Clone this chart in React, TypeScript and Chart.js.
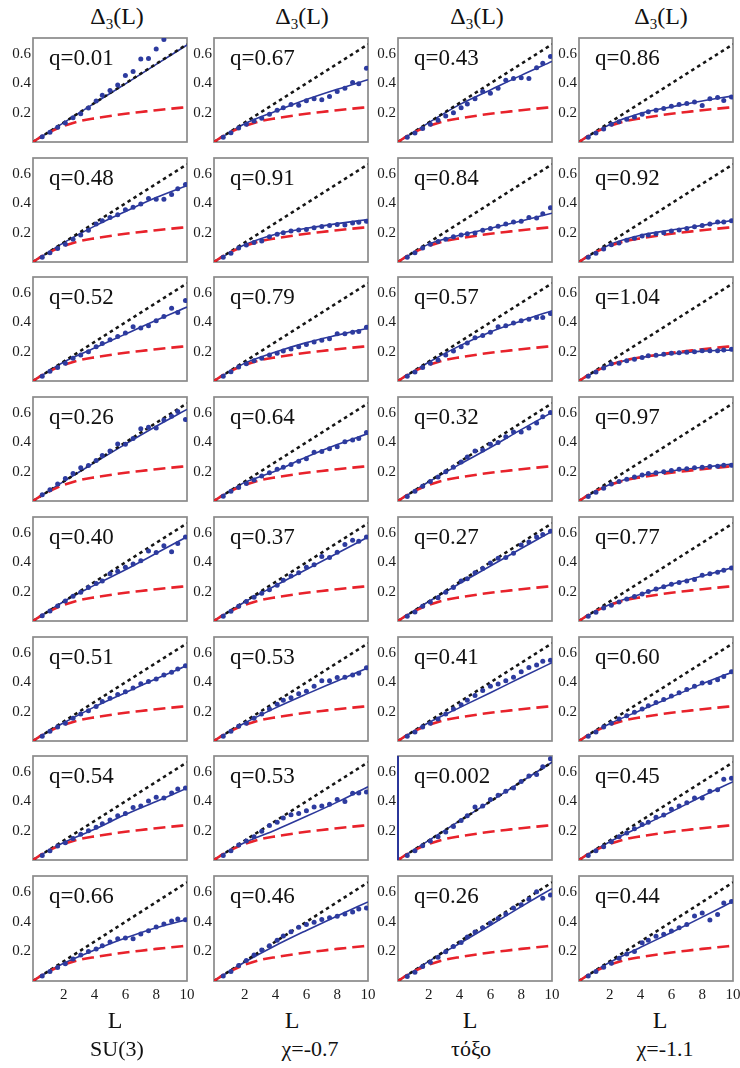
import React, { useEffect, useRef } from "react";
import { Chart, registerables } from "chart.js";
Chart.register(...registerables);

const FONT = '"Liberation Serif", "Times New Roman", Times, serif';

// ---- shared data ----
const dotL = [0.6, 1.1, 1.6, 2.1, 2.6, 3.1, 3.6, 4.1, 4.5, 5.0, 5.5, 6.0, 6.5, 7.0, 7.5, 8.0, 8.5, 9.0, 9.4, 9.9];
const fitL = [0, 1, 2, 4, 6, 8, 10];
const goeL = [0, 0.5, 1, 1.5, 2, 3, 4, 5, 6, 7, 8, 9, 10];
const goeV = [0, 0.035, 0.063, 0.088, 0.11, 0.142, 0.162, 0.178, 0.193, 0.205, 0.217, 0.228, 0.238];
const poissonL = [0, 10];
const poissonV = [0, 0.667];
const xTickValues = [2, 4, 6, 8, 10];
const xTickLabels = ["2", "4", "6", "8", "10"];
const yTickValues = [0.2, 0.4, 0.6];
const yTickLabels = ["0.2", "0.4", "0.6"];
const colTitles = ["Δ3(L)", "Δ3(L)", "Δ3(L)", "Δ3(L)"];
const colNames = ["SU(3)", "χ=-0.7", "τόξο", "χ=-1.1"];
const xAxisTitle = "L";
const qLabels = [
  "q=0.01", "q=0.67", "q=0.43", "q=0.86",
  "q=0.48", "q=0.91", "q=0.84", "q=0.92",
  "q=0.52", "q=0.79", "q=0.57", "q=1.04",
  "q=0.26", "q=0.64", "q=0.32", "q=0.97",
  "q=0.40", "q=0.37", "q=0.27", "q=0.77",
  "q=0.51", "q=0.53", "q=0.41", "q=0.60",
  "q=0.54", "q=0.53", "q=0.002", "q=0.45",
  "q=0.66", "q=0.46", "q=0.26", "q=0.44",
];
// vertical blue edge seen in the q=0.002 panel
const edgeL = [0, 0];
const edgeV = [0, 0.71];

// ---- per-panel data (dots, fitted curve) ----
const d11 = [0.035, 0.067, 0.1, 0.13, 0.165, 0.193, 0.232, 0.28, 0.32, 0.352, 0.389, 0.454, 0.481, 0.566, 0.57, 0.635, 0.7];
const f11 = [0, 0.066, 0.132, 0.265, 0.397, 0.53, 0.662];
const d12 = [0.033, 0.064, 0.096, 0.122, 0.144, 0.162, 0.189, 0.216, 0.233, 0.256, 0.251, 0.282, 0.296, 0.289, 0.311, 0.344, 0.367, 0.407, 0.398, 0.504];
const f12 = [0, 0.064, 0.125, 0.21, 0.29, 0.36, 0.425];
const d13 = [0.033, 0.062, 0.093, 0.122, 0.149, 0.178, 0.2, 0.233, 0.26, 0.296, 0.344, 0.333, 0.367, 0.422, 0.433, 0.438, 0.433, 0.507, 0.538, 0.584];
const f13 = [0, 0.066, 0.132, 0.255, 0.355, 0.455, 0.55];
const d14 = [0.033, 0.062, 0.089, 0.122, 0.138, 0.156, 0.171, 0.189, 0.207, 0.216, 0.229, 0.244, 0.256, 0.262, 0.273, 0.249, 0.296, 0.304, 0.284, 0.307];
const f14 = [0, 0.063, 0.12, 0.196, 0.24, 0.28, 0.315];

const d21 = [0.033, 0.064, 0.093, 0.122, 0.156, 0.184, 0.216, 0.26, 0.282, 0.304, 0.322, 0.356, 0.373, 0.396, 0.433, 0.429, 0.429, 0.46, 0.5, 0.529];
const f21 = [0, 0.066, 0.132, 0.245, 0.345, 0.44, 0.522];
const d22 = [0.033, 0.06, 0.096, 0.116, 0.133, 0.144, 0.173, 0.189, 0.2, 0.211, 0.218, 0.222, 0.233, 0.242, 0.249, 0.256, 0.253, 0.267, 0.271, 0.278];
const f22 = [0, 0.062, 0.118, 0.19, 0.23, 0.262, 0.29];
const d23 = [0.033, 0.064, 0.096, 0.122, 0.14, 0.156, 0.173, 0.184, 0.193, 0.198, 0.216, 0.229, 0.244, 0.26, 0.273, 0.278, 0.304, 0.3, 0.329, 0.371];
const f23 = [0, 0.064, 0.122, 0.182, 0.23, 0.28, 0.333];
const d24 = [0.033, 0.06, 0.089, 0.118, 0.129, 0.149, 0.162, 0.178, 0.184, 0.193, 0.2, 0.211, 0.218, 0.229, 0.24, 0.249, 0.26, 0.273, 0.273, 0.282];
const f24 = [0, 0.062, 0.118, 0.182, 0.218, 0.25, 0.284];

const d31 = [0.033, 0.067, 0.093, 0.122, 0.156, 0.178, 0.2, 0.233, 0.256, 0.282, 0.304, 0.327, 0.371, 0.362, 0.378, 0.411, 0.44, 0.496, 0.467, 0.549];
const f31 = [0, 0.066, 0.13, 0.225, 0.32, 0.415, 0.505];
const d32 = [0.033, 0.064, 0.096, 0.118, 0.138, 0.156, 0.178, 0.189, 0.204, 0.218, 0.233, 0.249, 0.267, 0.278, 0.289, 0.322, 0.322, 0.333, 0.338, 0.367];
const f32 = [0, 0.064, 0.122, 0.198, 0.262, 0.313, 0.36];
const d33 = [0.033, 0.062, 0.093, 0.122, 0.144, 0.178, 0.204, 0.233, 0.26, 0.296, 0.311, 0.333, 0.371, 0.378, 0.396, 0.411, 0.422, 0.433, 0.433, 0.46];
const f33 = [0, 0.065, 0.128, 0.24, 0.335, 0.41, 0.48];
const d34 = [0.033, 0.062, 0.089, 0.118, 0.122, 0.138, 0.149, 0.16, 0.173, 0.176, 0.182, 0.189, 0.193, 0.196, 0.2, 0.207, 0.207, 0.207, 0.211, 0.216];
const f34 = [0, 0.06, 0.111, 0.16, 0.185, 0.204, 0.212];

const d41 = [0.042, 0.076, 0.116, 0.153, 0.187, 0.227, 0.242, 0.276, 0.311, 0.342, 0.389, 0.387, 0.427, 0.493, 0.504, 0.498, 0.553, 0.578, 0.611, 0.556];
const f41 = [0, 0.067, 0.134, 0.262, 0.388, 0.51, 0.625];
const d42 = [0.033, 0.067, 0.093, 0.12, 0.144, 0.171, 0.193, 0.216, 0.231, 0.249, 0.271, 0.289, 0.333, 0.338, 0.356, 0.371, 0.404, 0.416, 0.427, 0.467];
const f42 = [0, 0.065, 0.127, 0.205, 0.3, 0.385, 0.46];
const d43 = [0.031, 0.067, 0.1, 0.133, 0.164, 0.2, 0.231, 0.267, 0.3, 0.342, 0.349, 0.387, 0.4, 0.438, 0.471, 0.471, 0.498, 0.533, 0.576, 0.604];
const f43 = [0, 0.066, 0.131, 0.25, 0.365, 0.487, 0.605];
const d44 = [0.031, 0.06, 0.087, 0.116, 0.133, 0.149, 0.164, 0.178, 0.187, 0.193, 0.2, 0.209, 0.216, 0.22, 0.227, 0.231, 0.236, 0.238, 0.244, 0.244];
const f44 = [0, 0.06, 0.112, 0.172, 0.205, 0.23, 0.252];

const d51 = [0.036, 0.069, 0.102, 0.136, 0.169, 0.196, 0.229, 0.256, 0.273, 0.322, 0.34, 0.367, 0.389, 0.411, 0.478, 0.467, 0.513, 0.473, 0.529, 0.573];
const f51 = [0, 0.067, 0.133, 0.245, 0.35, 0.462, 0.575];
const d52 = [0.033, 0.067, 0.1, 0.133, 0.162, 0.189, 0.213, 0.244, 0.278, 0.307, 0.329, 0.367, 0.384, 0.44, 0.433, 0.469, 0.522, 0.551, 0.544, 0.573];
const f52 = [0, 0.066, 0.13, 0.242, 0.352, 0.462, 0.573];
const d53 = [0.033, 0.062, 0.1, 0.129, 0.158, 0.196, 0.229, 0.273, 0.289, 0.329, 0.358, 0.396, 0.429, 0.433, 0.462, 0.518, 0.54, 0.573, 0.591, 0.613];
const f53 = [0, 0.067, 0.133, 0.256, 0.375, 0.495, 0.612];
const d54 = [0.033, 0.06, 0.089, 0.107, 0.129, 0.151, 0.167, 0.184, 0.202, 0.218, 0.233, 0.251, 0.262, 0.273, 0.284, 0.313, 0.322, 0.333, 0.347, 0.362];
const f54 = [0, 0.062, 0.112, 0.182, 0.25, 0.307, 0.365];

const d61 = [0.033, 0.067, 0.096, 0.122, 0.156, 0.184, 0.207, 0.236, 0.269, 0.291, 0.318, 0.336, 0.362, 0.391, 0.407, 0.424, 0.451, 0.469, 0.491, 0.513];
const f61 = [0, 0.065, 0.125, 0.233, 0.33, 0.425, 0.515];
const d62 = [0.033, 0.067, 0.1, 0.122, 0.156, 0.184, 0.218, 0.251, 0.278, 0.296, 0.322, 0.34, 0.373, 0.411, 0.411, 0.433, 0.436, 0.451, 0.462, 0.5];
const f62 = [0, 0.064, 0.123, 0.226, 0.32, 0.41, 0.5];
const d63 = [0.033, 0.062, 0.096, 0.122, 0.151, 0.184, 0.218, 0.247, 0.278, 0.311, 0.344, 0.373, 0.389, 0.411, 0.436, 0.473, 0.502, 0.518, 0.544, 0.551];
const f63 = [0, 0.065, 0.126, 0.228, 0.33, 0.433, 0.535];
const d64 = [0.033, 0.062, 0.096, 0.122, 0.151, 0.173, 0.196, 0.218, 0.24, 0.262, 0.284, 0.307, 0.329, 0.351, 0.373, 0.396, 0.4, 0.418, 0.44, 0.473];
const f64 = [0, 0.062, 0.118, 0.21, 0.3, 0.39, 0.472];

const d71 = [0.031, 0.064, 0.096, 0.118, 0.147, 0.176, 0.2, 0.224, 0.247, 0.273, 0.302, 0.318, 0.358, 0.369, 0.402, 0.429, 0.424, 0.458, 0.484, 0.491];
const f71 = [0, 0.064, 0.12, 0.21, 0.31, 0.4, 0.49];
const d72 = [0.031, 0.064, 0.102, 0.129, 0.158, 0.196, 0.236, 0.258, 0.287, 0.309, 0.318, 0.336, 0.362, 0.369, 0.38, 0.413, 0.4, 0.455, 0.458, 0.465];
const f72 = [0, 0.064, 0.12, 0.205, 0.298, 0.395, 0.5];
const d73 = [0.031, 0.064, 0.098, 0.129, 0.158, 0.191, 0.229, 0.269, 0.302, 0.362, 0.369, 0.413, 0.442, 0.469, 0.491, 0.536, 0.573, 0.584, 0.636, 0.691];
const f73 = [0, 0.067, 0.134, 0.267, 0.4, 0.534, 0.667];
const d74 = [0.031, 0.064, 0.091, 0.124, 0.158, 0.184, 0.213, 0.242, 0.258, 0.291, 0.307, 0.347, 0.369, 0.391, 0.424, 0.424, 0.469, 0.48, 0.551, 0.558];
const f74 = [0, 0.065, 0.125, 0.228, 0.33, 0.435, 0.535];

const d81 = [0.033, 0.064, 0.092, 0.117, 0.149, 0.175, 0.2, 0.217, 0.239, 0.263, 0.285, 0.29, 0.285, 0.317, 0.34, 0.365, 0.385, 0.405, 0.42, 0.415];
const f81 = [0, 0.064, 0.12, 0.21, 0.29, 0.36, 0.415];
const d82 = [0.033, 0.064, 0.104, 0.138, 0.176, 0.209, 0.238, 0.276, 0.304, 0.333, 0.364, 0.382, 0.398, 0.416, 0.427, 0.438, 0.453, 0.467, 0.487, 0.493];
const f82 = [0, 0.066, 0.128, 0.24, 0.342, 0.44, 0.535];
const d83 = [0.031, 0.06, 0.098, 0.127, 0.16, 0.198, 0.233, 0.26, 0.298, 0.331, 0.36, 0.393, 0.422, 0.453, 0.493, 0.516, 0.553, 0.604, 0.56, 0.582];
const f83 = [0, 0.066, 0.133, 0.254, 0.377, 0.503, 0.625];
const d84 = [0.033, 0.064, 0.093, 0.12, 0.153, 0.182, 0.2, 0.258, 0.276, 0.302, 0.316, 0.338, 0.36, 0.382, 0.44, 0.46, 0.413, 0.45, 0.527, 0.538];
const f84 = [0, 0.065, 0.127, 0.228, 0.328, 0.432, 0.538];

const dotSeries = [
  d11, d12, d13, d14, d21, d22, d23, d24, d31, d32, d33, d34, d41, d42, d43, d44,
  d51, d52, d53, d54, d61, d62, d63, d64, d71, d72, d73, d74, d81, d82, d83, d84,
];
const fitSeries = [
  f11, f12, f13, f14, f21, f22, f23, f24, f31, f32, f33, f34, f41, f42, f43, f44,
  f51, f52, f53, f54, f61, f62, f63, f64, f71, f72, f73, f74, f81, f82, f83, f84,
];
const edgePanel = 26;

// ---- layout ----
const COL_LEFT = [33, 214, 398, 579];
const ROW_TOP0 = 37;
const ROW_PITCH = 119.7;
const PLOT_W = 154;
const PLOT_H = 106;
const Y_AXIS_W = 32;
const PAD_TOP = 10;
const PAD_RIGHT = 14;
const X_AXIS_H = 22;

const BLUE = "#2b379a";
const DOT = "#2d3b9f";
const RED = "#e8222b";
const BLACK = "#151515";
const FRAME = "#8a8a8a";

const pts = (xs: number[], ys: number[]) => ys.map((y, i) => ({ x: xs[i], y }));

const framePlugin = {
  id: "frame",
  beforeDatasetsDraw(chart: any) {
    const { ctx, chartArea: a } = chart;
    ctx.save();
    ctx.strokeStyle = FRAME;
    ctx.lineWidth = 1.7;
    ctx.strokeRect(a.left, a.top, a.right - a.left, a.bottom - a.top);
    ctx.restore();
  },
};

function Panel({ idx }: { idx: number }) {
  const ref = useRef<HTMLCanvasElement | null>(null);
  const r = Math.floor(idx / 4);
  const c = idx % 4;
  const bottom = r === 7;
  const top = Math.round(ROW_TOP0 + r * ROW_PITCH);
  const left = COL_LEFT[c];
  const W = Y_AXIS_W + PLOT_W + PAD_RIGHT;
  const padBottom = bottom ? 4 : 10;
  const H = PAD_TOP + PLOT_H + (bottom ? X_AXIS_H : 0) + padBottom;

  useEffect(() => {
    const datasets: any[] = [
      {
        label: "data",
        data: pts(dotL, dotSeries[idx]),
        showLine: false,
        pointRadius: 2.5,
        pointBackgroundColor: DOT,
        pointBorderWidth: 0,
      },
      {
        label: "goe",
        data: pts(goeL, goeV),
        showLine: true,
        borderColor: RED,
        borderWidth: 2.6,
        borderDash: [12, 6],
        pointRadius: 0,
        cubicInterpolationMode: "monotone",
      },
      {
        label: "poisson",
        data: pts(poissonL, poissonV),
        showLine: true,
        borderColor: BLACK,
        borderWidth: 2.6,
        borderDash: [3.5, 3.5],
        pointRadius: 0,
      },
      {
        label: "fit",
        data: pts(fitL, fitSeries[idx]),
        showLine: true,
        borderColor: BLUE,
        borderWidth: 1.6,
        pointRadius: 0,
        cubicInterpolationMode: "monotone",
      },
    ];
    if (idx === edgePanel) {
      datasets.unshift({
        label: "edge",
        data: pts(edgeL, edgeV),
        showLine: true,
        borderColor: BLUE,
        borderWidth: 2,
        pointRadius: 0,
        clip: 4,
      });
    }
    const chart = new Chart(ref.current as HTMLCanvasElement, {
      type: "scatter",
      data: { datasets },
      plugins: [framePlugin],
      options: {
        responsive: false,
        animation: false,
        devicePixelRatio: 1,
        events: [],
        layout: { padding: { left: 0, top: PAD_TOP, right: PAD_RIGHT, bottom: padBottom } },
        plugins: { legend: { display: false }, tooltip: { enabled: false }, title: { display: false } },
        scales: {
          x: {
            type: "linear",
            min: 0,
            max: 10,
            grid: { display: false, drawTicks: false },
            border: { display: false },
            afterBuildTicks: (s: any) => {
              s.ticks = xTickValues.map((v) => ({ value: v }));
            },
            afterFit: (s: any) => {
              s.height = bottom ? X_AXIS_H : 0;
            },
            ticks: {
              display: bottom,
              padding: 5,
              color: "#1a1a1a",
              font: { family: FONT, size: 15 },
              maxRotation: 0,
              autoSkip: false,
              callback: (_v: any, i: number) => xTickLabels[i],
            },
          },
          y: {
            type: "linear",
            min: 0,
            max: 0.71,
            grid: { display: false, drawTicks: false },
            border: { display: false },
            afterBuildTicks: (s: any) => {
              s.ticks = yTickValues.map((v) => ({ value: v }));
            },
            afterFit: (s: any) => {
              s.width = Y_AXIS_W;
            },
            ticks: {
              padding: 2,
              color: "#1a1a1a",
              font: { family: FONT, size: 15 },
              autoSkip: false,
              callback: (_v: any, i: number) => yTickLabels[i],
            },
          },
        },
      } as any,
    });
    return () => chart.destroy();
  }, []);

  return (
    <>
      <canvas
        ref={ref}
        width={W}
        height={H}
        style={{ position: "absolute", left: left - Y_AXIS_W, top: top - PAD_TOP, width: W, height: H }}
      />
      <div
        style={{
          position: "absolute",
          left: left + 16,
          top: top + 9,
          fontFamily: FONT,
          fontSize: 23,
          lineHeight: "23px",
          color: "#111",
          whiteSpace: "nowrap",
        }}
      >
        {qLabels[idx]}
      </div>
    </>
  );
}

const TITLE_CX = [117, 302, 477, 661];
const L_CX = [115, 292, 470, 660];
const NAME_CX = [117, 310, 471, 665];

function Title({ text, cx }: { text: string; cx: number }) {
  // text like "Δ3(L)": the digit is drawn as a subscript
  const head = text.slice(0, 1);
  const sub = text.slice(1, 2);
  const rest = text.slice(2);
  return (
    <div
      style={{
        position: "absolute",
        left: cx - 60,
        width: 120,
        top: 4,
        textAlign: "center",
        fontFamily: FONT,
        fontSize: 24,
        lineHeight: "24px",
        color: "#111",
      }}
    >
      {head}
      <span style={{ fontSize: 15, verticalAlign: "-5px", lineHeight: 0 }}>{sub}</span>
      {rest}
    </div>
  );
}

export default function App() {
  const panels = [];
  for (let i = 0; i < 32; i++) panels.push(<Panel key={i} idx={i} />);
  return (
    <div style={{ position: "absolute", left: 0, top: 0, width: 740, height: 1068, background: "#fff", overflow: "hidden" }}>
      {colTitles.map((t, i) => (
        <Title key={"t" + i} text={t} cx={TITLE_CX[i]} />
      ))}
      {panels}
      {L_CX.map((cx, i) => (
        <div
          key={"l" + i}
          style={{
            position: "absolute",
            left: cx - 30,
            width: 60,
            top: 1008,
            textAlign: "center",
            fontFamily: FONT,
            fontSize: 24,
            lineHeight: "24px",
            color: "#111",
          }}
        >
          {xAxisTitle}
        </div>
      ))}
      {colNames.map((n, i) => (
        <div
          key={"n" + i}
          style={{
            position: "absolute",
            left: NAME_CX[i] - 60,
            width: 120,
            top: 1038,
            textAlign: "center",
            fontFamily: FONT,
            fontSize: 22,
            lineHeight: "22px",
            color: "#111",
          }}
        >
          {n}
        </div>
      ))}
    </div>
  );
}
